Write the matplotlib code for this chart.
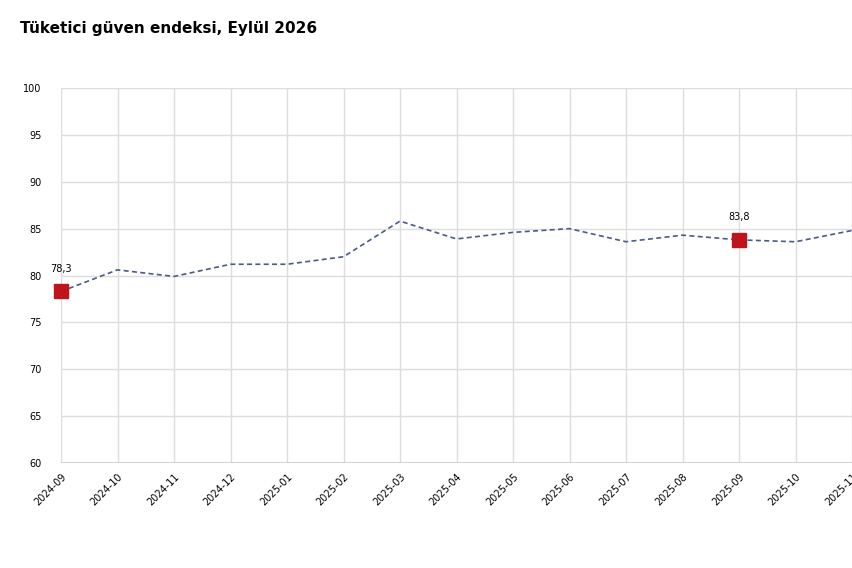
import matplotlib
matplotlib.use("Agg")
import matplotlib.pyplot as plt

months = ["2024-09","2024-10","2024-11","2024-12","2025-01","2025-02","2025-03","2025-04",
          "2025-05","2025-06","2025-07","2025-08","2025-09","2025-10","2025-11"]
values = [78.3, 80.6, 79.9, 81.2, 81.2, 82.0, 85.8, 83.9, 84.6, 85.0, 83.6, 84.3, 83.8, 83.6, 84.8]
highlight_idx = [0, 12]
yticks = [60, 65, 70, 75, 80, 85, 90, 95, 100]

fig = plt.figure(figsize=(8.52, 5.68), dpi=100)
ax = fig.add_axes([61/852, 1-463/568, 1-61/852, (463-88)/568])
x = list(range(len(months)))
ax.plot(x, values, color="#4a5a8a", lw=1.2, ls=(0, (3, 2)), zorder=3)
for i in highlight_idx:
    ax.plot(i, values[i], marker="s", ms=10, color="#c0141c", clip_on=False, zorder=4)
    ax.annotate(f"{values[i]:.1f}".replace(".", ","), (i, values[i]), xytext=(0, 14),
                textcoords="offset points", ha="center", fontsize=7, annotation_clip=False)
ax.set_xlim(0, (852-61)/58)
ax.set_ylim(60, 100)
ax.set_yticks(yticks)
ax.set_xticks(x)
ax.set_xticklabels(months, rotation=45, ha="right", rotation_mode="anchor", fontsize=7)
ax.tick_params(axis="y", labelsize=7, length=0, pad=14)
ax.tick_params(axis="x", length=0, pad=6)
ax.grid(True, color="#dddddd", lw=1)
for s in ax.spines.values():
    s.set_visible(False)
ax.axhline(60, color="#cccccc", lw=1.2)
fig.text(20/852, 1-28/568, "Tüketici güven endeksi, Eylül 2026", fontsize=11, fontweight="bold", va="center")
fig.savefig("out.png", dpi=100)
